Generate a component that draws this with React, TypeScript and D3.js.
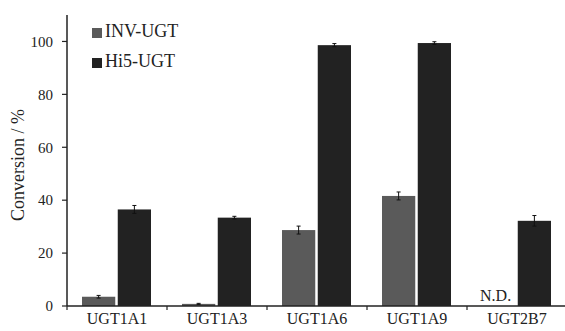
import React, { useRef, useEffect } from "react";
import * as d3 from "d3";

const categories = ["UGT1A1", "UGT1A3", "UGT1A6", "UGT1A9", "UGT2B7"];
const series = ["INV-UGT", "Hi5-UGT"];
const invValues = [3.5, 0.8, 28.7, 41.6, null];
const invErrors = [0.5, 0.2, 1.5, 1.5, null];
const hi5Values = [36.5, 33.4, 98.6, 99.4, 32.2];
const hi5Errors = [1.5, 0.5, 0.6, 0.5, 2.0];
const yTicks = [0, 20, 40, 60, 80, 100];
const colors = ["#5a5a5a", "#222222"];

const font = "'Liberation Serif', 'Times New Roman', serif";

const App = () => {
  const ref = useRef<SVGSVGElement>(null);

  useEffect(() => {
    const svg = d3.select(ref.current);
    svg.selectAll("*").remove();

    const width = 565,
      height = 331;
    const left = 67,
      bottom = 306;

    const x = d3.scaleBand<string>().domain(categories).range([left, left + 500]);
    const xs = d3
      .scaleBand<string>()
      .domain(series)
      .range([15, 84])
      .paddingInner(0.07);
    const y = d3.scaleLinear().domain([0, 110]).range([bottom, 15]);

    const rows = [invValues, hi5Values];
    const errs = [invErrors, hi5Errors];

    series.forEach((s, si) => {
      const g = svg.append("g");
      categories.forEach((c, ci) => {
        const v = rows[si][ci];
        if (v == null) return;
        const x0 = x(c)! + xs(s)!;
        g.append("rect")
          .attr("x", x0)
          .attr("y", y(v))
          .attr("width", xs.bandwidth())
          .attr("height", y(0) - y(v))
          .attr("fill", colors[si]);
        const e = errs[si][ci]!;
        const cx = x0 + xs.bandwidth() / 2;
        const eb = g.append("g").attr("stroke", "#111").attr("stroke-width", 1);
        eb.append("line").attr("x1", cx).attr("x2", cx).attr("y1", y(v + e)).attr("y2", y(v - e));
        eb.append("line").attr("x1", cx - 2).attr("x2", cx + 2).attr("y1", y(v + e)).attr("y2", y(v + e));
        eb.append("line").attr("x1", cx - 2).attr("x2", cx + 2).attr("y1", y(v - e)).attr("y2", y(v - e));
      });
    });

    // N.D. marker where the value is missing
    categories.forEach((c, ci) => {
      if (invValues[ci] == null) {
        svg
          .append("text")
          .attr("x", x(c)! + xs("INV-UGT")! + xs.bandwidth() / 2 - 3)
          .attr("y", bottom - 5)
          .attr("text-anchor", "middle")
          .attr("font-family", font)
          .attr("font-size", 16)
          .attr("fill", "#222")
          .text("N.D.");
      }
    });

    // y axis
    const yAxis = svg.append("g").attr("transform", `translate(${left},0)`);
    yAxis
      .append("line")
      .attr("y1", y(110))
      .attr("y2", bottom)
      .attr("stroke", "#222")
      .attr("stroke-width", 1.5);
    yTicks.forEach((t) => {
      yAxis
        .append("line")
        .attr("x1", -5)
        .attr("x2", 0)
        .attr("y1", y(t))
        .attr("y2", y(t))
        .attr("stroke", "#222")
        .attr("stroke-width", 1.2);
      yAxis
        .append("text")
        .attr("x", -14)
        .attr("y", y(t))
        .attr("dy", "0.35em")
        .attr("text-anchor", "end")
        .attr("font-family", font)
        .attr("font-size", 15)
        .attr("fill", "#222")
        .text(t);
    });

    // x axis
    const xAxis = svg.append("g");
    xAxis
      .append("line")
      .attr("x1", left)
      .attr("x2", width)
      .attr("y1", bottom)
      .attr("y2", bottom)
      .attr("stroke", "#222")
      .attr("stroke-width", 1.5);
    categories.forEach((c) => {
      xAxis
        .append("line")
        .attr("x1", x(c)!)
        .attr("x2", x(c)!)
        .attr("y1", bottom)
        .attr("y2", bottom + 4)
        .attr("stroke", "#222")
        .attr("stroke-width", 1.2);
      xAxis
        .append("text")
        .attr("x", x(c)! + x.bandwidth() / 2)
        .attr("y", 324)
        .attr("text-anchor", "middle")
        .attr("font-family", font)
        .attr("font-size", 16)
        .attr("fill", "#222")
        .text(c);
    });

    // y label
    svg
      .append("text")
      .attr("transform", `translate(24,165) rotate(-90)`)
      .attr("text-anchor", "middle")
      .attr("font-family", font)
      .attr("font-size", 18)
      .attr("fill", "#222")
      .text("Conversion / %");

    // legend
    series.forEach((s, i) => {
      svg
        .append("rect")
        .attr("x", 92)
        .attr("y", 28 + i * 30)
        .attr("width", 10)
        .attr("height", 10)
        .attr("fill", colors[i]);
      svg
        .append("text")
        .attr("x", 105)
        .attr("y", 37 + i * 30)
        .attr("font-family", font)
        .attr("font-size", 18)
        .attr("fill", "#222")
        .text(s);
    });

    void height;
  }, []);

  return <svg ref={ref} width={565} height={331} style={{ position: "absolute", left: 0, top: 0 }} />;
};

export default App;
